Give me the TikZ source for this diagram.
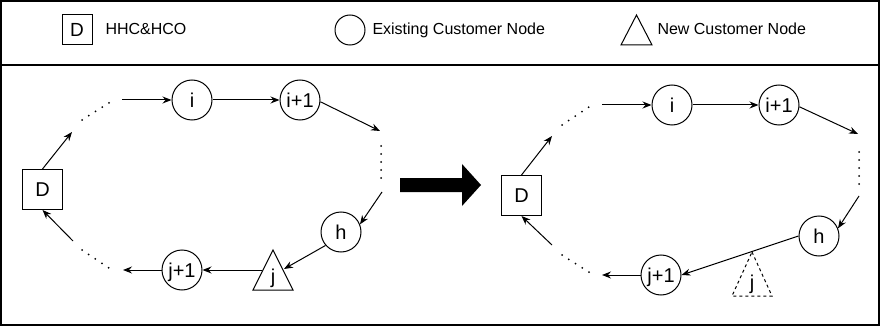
\documentclass[tikz,border=0pt]{standalone}
\usepackage{fontspec}
\setmainfont{Liberation Sans}
\usetikzlibrary{arrows.meta}
\begin{document}
\begin{tikzpicture}[x=1pt,y=-1pt, line width=1pt,
  font=\fontsize{16}{19}\selectfont,
  cust/.style={circle, draw, minimum size=40pt, inner sep=0pt, font=\fontsize{20}{24}\selectfont, text height=14.3pt, text depth=0pt},
  depot/.style={rectangle, draw, minimum size=40pt, inner sep=0pt, font=\fontsize{20}{24}\selectfont, text height=14.3pt, text depth=0pt},
  trilabel/.style={anchor=base, inner sep=0pt, font=\fontsize{20}{24}\selectfont},
  legtext/.style={anchor=base west, inner sep=0pt},
  arr/.style={-{Stealth[length=9pt,width=7pt,inset=3pt]}},
  dots/.style={line width=2pt, line cap=round, dash pattern=on 0pt off 8pt},
  frame/.style={line width=1.3pt}
]
\useasboundingbox (0,0) rectangle (881,326);
\draw[frame] (1,1) rectangle (879,65);
\draw[frame] (1,65) rectangle (879,325);

% legend
\node[depot, minimum size=30pt, font=\fontsize{19}{23}\selectfont, text height=13.6pt] (legD) at (77,30) {D};
\node[legtext] (legDtext) at (105,35) {HHC\&HCO};
\node[cust, minimum size=30pt] (legC) at (350,30) {};
\node[legtext] (legCtext) at (372,35) {Existing Customer Node};
\draw (636.5,15) -- (652,45) -- (621,45) -- cycle;
\node[legtext] (legTtext) at (657,35) {New Customer Node};

% left diagram
\node[depot] (LD) at (42.5,189.5) {D};
\node[cust] (Li) at (192,100) {i};
\node[cust] (Li1) at (300,100) {i+1};
\node[cust] (Lh) at (341,232) {h};
\node[cust] (Lj1) at (182,270) {j+1};
\draw (273,250) -- (293,290) -- (253,290) -- cycle;
\node[trilabel] (Lj) at (273,283) {j};
\coordinate (LtlA) at (82,120);
\coordinate (LtlB) at (112,101);
\coordinate (LtlEnd) at (72,132);
\coordinate (LtopStart) at (122,100);
\coordinate (LrA) at (380,131);
\coordinate (LvA) at (381,146);
\coordinate (LvB) at (381,179);
\coordinate (LrB) at (382,192);
\coordinate (LjIn) at (284,269);
\coordinate (LjOut) at (262,270);
\coordinate (LblEnd) at (123,270);
\coordinate (LblA) at (82,250);
\coordinate (LblB) at (112,270);
\coordinate (LblStart) at (73,241);
\draw[arr] (LD.north) -- (LtlEnd);
\draw[dots] (LtlA) -- (LtlB);
\draw[arr] (LtopStart) -- (Li.west);
\draw[arr] (Li) -- (Li1);
\draw[arr] (Li1.-5) -- (LrA);
\draw[dots] (LvA) -- (LvB);
\draw[arr] (LrB) -- (Lh.22);
\draw[arr] (Lh.221) -- (LjIn);
\draw[arr] (LjOut) -- (Lj1.east);
\draw[arr] (Lj1.west) -- (LblEnd);
\draw[dots] (LblA) -- (LblB);
\draw[arr] (LblStart) -- (LD.south);

% big arrow
\fill (400,178) -- (462,178) -- (462,164) -- (481,185) -- (462,206) -- (462,192) -- (400,192) -- cycle;

% right diagram
\node[depot] (RD) at (521.5,195.5) {D};
\node[cust] (Ri) at (672,105) {i};
\node[cust] (Ri1) at (779,105) {i+1};
\node[cust] (Rh) at (819,236) {h};
\node[cust] (Rj1) at (661,275) {j+1};
\draw[dashed] (752,252) -- (772,296) -- (732,296) -- cycle;
\node[trilabel] (Rj) at (752,289) {j};
\coordinate (RtlA) at (562,125);
\coordinate (RtlB) at (592,105);
\coordinate (RtlEnd) at (552,136);
\coordinate (RtopStart) at (602,105);
\coordinate (RrA) at (858,134);
\coordinate (RvA) at (859,152);
\coordinate (RvB) at (859,185);
\coordinate (RrB) at (859,196);
\coordinate (RblEnd) at (602,275);
\coordinate (RblA) at (562,255);
\coordinate (RblB) at (592,274);
\coordinate (RblStart) at (552,245);
\draw[arr] (RD.north) -- (RtlEnd);
\draw[dots] (RtlA) -- (RtlB);
\draw[arr] (RtopStart) -- (Ri.west);
\draw[arr] (Ri) -- (Ri1);
\draw[arr] (Ri1.-5) -- (RrA);
\draw[dots] (RvA) -- (RvB);
\draw[arr] (RrB) -- (Rh.22);
\draw[arr] (Rh.west) -- (Rj1.east);
\draw[arr] (Rj1.west) -- (RblEnd);
\draw[dots] (RblA) -- (RblB);
\draw[arr] (RblStart) -- (RD.south);
\end{tikzpicture}
\end{document}
